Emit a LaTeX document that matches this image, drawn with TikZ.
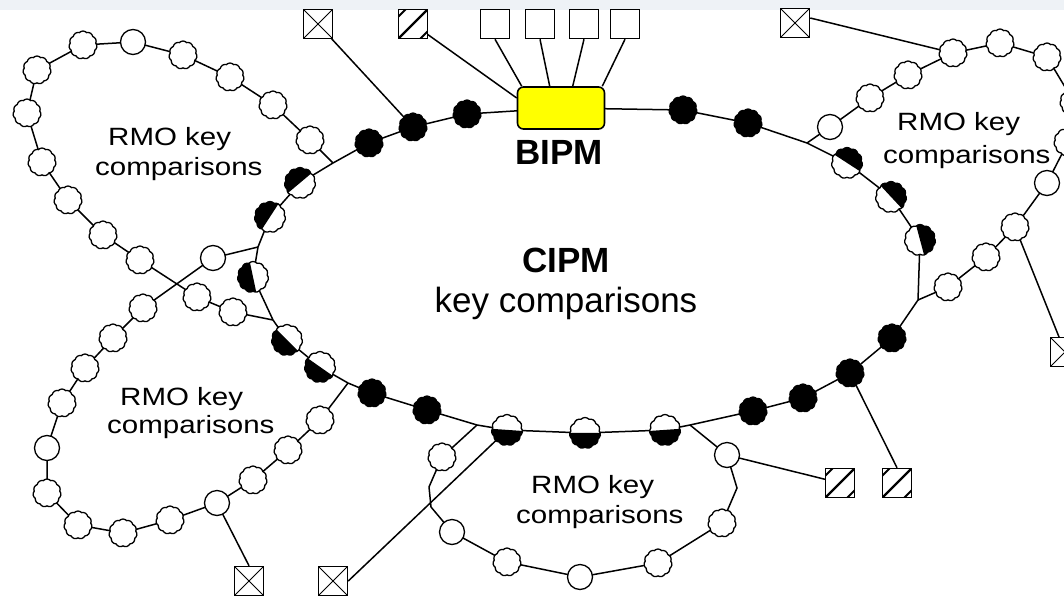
\documentclass[tikz,border=0pt]{standalone}
\usepackage{fontspec}
\setmainfont{Liberation Sans}
\newfontfamily\rmofont[FakeStretch=1.18]{Liberation Sans}
\usetikzlibrary{shapes.symbols,backgrounds}
\definecolor{bandgray}{RGB}{238,242,246}
\definecolor{bipmyellow}{RGB}{255,255,0}
\begin{document}
\begin{tikzpicture}[x=1pt,y=-1pt,
 conn/.style={draw=black, line width=1.5pt},
 wnode/.style={cloud, cloud puffs=11, cloud puff arc=95, aspect=1, draw=black, line width=1.3pt, fill=white, minimum width=28pt, minimum height=28pt, inner sep=0pt},
 pnode/.style={circle, draw=black, line width=1.3pt, fill=white, minimum size=25pt, inner sep=0pt},
 bnode/.style={wnode, fill=black},
 hnode/.style={wnode, minimum width=31pt, minimum height=31pt, path picture={\fill[black] ([shift={({#1+90}:20pt)}]path picture bounding box.center) -- ([shift={({#1+45}:28.3pt)}]path picture bounding box.center) -- ([shift={({#1-45}:28.3pt)}]path picture bounding box.center) -- ([shift={({#1-90}:20pt)}]path picture bounding box.center) -- cycle;}},
 sqbase/.style={draw=black, line width=1.5pt, fill=white, minimum size=29pt, inner sep=0pt},
 sqx/.style={sqbase, path picture={\draw[line width=1pt] (path picture bounding box.north west) -- (path picture bounding box.south east) (path picture bounding box.north east) -- (path picture bounding box.south west);}},
 sqh/.style={sqbase, path picture={\begin{scope}[shift={(path picture bounding box.center)}]\draw[line width=2.4pt] (-15pt,-15pt) -- (15pt,15pt); \draw[line width=2pt] (-15pt,7pt) -- (-7pt,15pt) (7pt,-15pt) -- (15pt,-7pt);\end{scope}}},
 rmo/.style={font=\rmofont\fontsize{25pt}{30pt}\selectfont, anchor=base west, inner sep=0pt},
 big/.style={font=\fontsize{35pt}{40pt}\selectfont, anchor=base, inner sep=0pt},
 bigb/.style={font=\bfseries\fontsize{35pt}{40pt}\selectfont, anchor=base, inner sep=0pt}
]
\useasboundingbox (0,0) rectangle (1064,597);
\clip (0,0) rectangle (1064,597);
\fill[bandgray] (0,0) rectangle (1064,10);

% squares
\node[sqx] (sqA) at (318,24) {};
\node[sqh] (sqB) at (413,24) {};
\node[sqbase] (sq1) at (495,24) {};
\node[sqbase] (sq2) at (540,24) {};
\node[sqbase] (sq3) at (584,24) {};
\node[sqbase] (sq4) at (625,24) {};
\node[sqx] (sqC) at (795,23) {};
\node[sqx] (sqD) at (1065,352) {};
\node[sqh] (sqE) at (840,483) {};
\node[sqh] (sqF) at (897,483) {};
\node[sqx] (sqG) at (249,581) {};
\node[sqx] (sqH) at (333,581) {};

% BIPM
\node[draw=black, line width=1.6pt, fill=bipmyellow, rounded corners=6pt, minimum width=87pt, minimum height=42pt, inner sep=0pt] (bipm) at (561,108) {};
\node[bigb] (bipmtxt) at (559,164) {BIPM};

% CIPM loop
\node[bnode] (c1) at (467,114) {};
\node[bnode] (c2) at (413,127) {};
\node[bnode] (c3) at (369,143) {};
\coordinate (c4) at (333,163);
\node[hnode=130] (c5) at (300,183) {};
\node[hnode=147] (c6) at (270,217) {};
\coordinate (c7) at (258,247);
\node[hnode=192] (c8) at (253,277) {};
\coordinate (c9) at (273,320);
\node[hnode=225] (c10) at (287,340) {};
\node[hnode=235] (c11) at (320,367) {};
\coordinate (c12) at (348,383);
\node[bnode] (c13) at (372,393) {};
\node[bnode] (c14) at (427,410) {};
\coordinate (c15) at (477,425);
\node[hnode=266] (c16) at (507,430) {};
\node[hnode=270] (c17) at (585,433) {};
\node[hnode=274] (c18) at (665,430) {};
\coordinate (c19) at (690,425);
\node[bnode] (c20) at (753,411) {};
\node[bnode] (c21) at (803,398) {};
\node[bnode] (c22) at (850,373) {};
\node[bnode] (c23) at (892,338) {};
\coordinate (c24) at (918,300);
\node[hnode=15] (c25) at (920,240) {};
\node[hnode=43] (c26) at (891,197) {};
\node[hnode=57] (c27) at (847,163) {};
\coordinate (c28) at (807,143);
\node[bnode] (c29) at (748,123) {};
\node[bnode] (c30) at (683,110) {};

% top-left RMO loop
\node[wnode] (t1) at (310,140) {};
\node[wnode] (t2) at (273,105) {};
\node[wnode] (t3) at (230,77) {};
\node[wnode] (t4) at (183,55) {};
\node[pnode] (t5) at (133,42) {};
\node[wnode] (t6) at (83,45) {};
\node[wnode] (t7) at (37,70) {};
\node[wnode] (t8) at (27,113) {};
\node[wnode] (t9) at (42,162) {};
\node[wnode] (t10) at (68,200) {};
\node[wnode] (t11) at (103,235) {};
\node[wnode] (t12) at (140,260) {};
\node[wnode] (t13) at (197,297) {};
\node[wnode] (t14) at (233,312) {};

% right RMO loop
\node[pnode] (r1) at (830,127) {};
\node[wnode] (r2) at (870,98) {};
\node[wnode] (r3) at (908,75) {};
\node[wnode] (r4) at (953,53) {};
\node[wnode] (r5) at (1000,43) {};
\node[wnode] (r6) at (1047,57) {};
\node[wnode] (r7) at (1074,102) {};
\node[wnode] (r8) at (1068,142) {};
\node[pnode] (r9) at (1047,183) {};
\node[wnode] (r10) at (1015,227) {};
\node[wnode] (r11) at (986,257) {};
\node[wnode] (r12) at (948,287) {};

% bottom-left RMO loop
\node[pnode] (l1) at (213,258) {};
\node[wnode] (l2) at (143,308) {};
\node[wnode] (l3) at (113,338) {};
\node[wnode] (l4) at (85,368) {};
\node[wnode] (l5) at (62,403) {};
\node[pnode] (l6) at (47,448) {};
\node[wnode] (l7) at (47,493) {};
\node[wnode] (l8) at (78,525) {};
\node[wnode] (l9) at (123,533) {};
\node[wnode] (l10) at (170,520) {};
\node[pnode] (l11) at (217,503) {};
\node[wnode] (l12) at (253,480) {};
\node[wnode] (l13) at (288,450) {};
\node[wnode] (l14) at (320,420) {};

% bottom RMO loop
\node[wnode] (m1) at (442,457) {};
\coordinate (mb1) at (429,487);
\coordinate (mb2) at (431,507);
\node[pnode] (m2) at (452,532) {};
\node[wnode] (m3) at (507,562) {};
\node[pnode] (m4) at (580,577) {};
\node[wnode] (m5) at (658,563) {};
\node[wnode] (m6) at (722,523) {};
\coordinate (mb3) at (737,488);
\node[pnode] (m7) at (727,455) {};

% texts
\node[bigb] (cipm) at (566,272) {CIPM};
\node[big] (kc) at (566,312) {key comparisons};
\node[rmo] (tl1) at (108,145) {RMO key};
\node[rmo] (tl2) at (95,175) {comparisons};
\node[rmo] (rr1) at (897,130) {RMO key};
\node[rmo] (rr2) at (883,163) {comparisons};
\node[rmo] (bl1) at (120,405) {RMO key};
\node[rmo] (bl2) at (107,433) {comparisons};
\node[rmo] (bb1) at (531,493) {RMO key};
\node[rmo] (bb2) at (516,523) {comparisons};

\begin{pgfonlayer}{background}
\draw[conn] (bipm.center) -- (c1.center) -- (c2.center) -- (c3.center) -- (c4) -- (c5.center) -- (c6.center) -- (c7) -- (c8.center) -- (c9) -- (c10.center) -- (c11.center) -- (c12) -- (c13.center) -- (c14.center) -- (c15) -- (c16.center) -- (c17.center) -- (c18.center) -- (c19) -- (c20.center) -- (c21.center) -- (c22.center) -- (c23.center) -- (c24) -- (c25.center) -- (c26.center) -- (c27.center) -- (c28) -- (c29.center) -- (c30.center) -- (bipm.center);
\draw[conn] (c4) -- (t1.center) -- (t2.center) -- (t3.center) -- (t4.center) -- (t5.center) -- (t6.center) -- (t7.center) -- (t8.center) -- (t9.center) -- (t10.center) -- (t11.center) -- (t12.center) -- (t13.center) -- (t14.center) -- (c9);
\draw[conn] (c28) -- (r1.center) -- (r2.center) -- (r3.center) -- (r4.center) -- (r5.center) -- (r6.center) -- (r7.center) -- (r8.center) -- (r9.center) -- (r10.center) -- (r11.center) -- (r12.center) -- (c24);
\draw[conn] (c7) -- (l1.center) -- (l2.center) -- (l3.center) -- (l4.center) -- (l5.center) -- (l6.center) -- (l7.center) -- (l8.center) -- (l9.center) -- (l10.center) -- (l11.center) -- (l12.center) -- (l13.center) -- (l14.center) -- (c12);
\draw[conn] (c15) -- (m1.center) -- (mb1) -- (mb2) -- (m2.center) -- (m3.center) -- (m4.center) -- (m5.center) -- (m6.center) -- (mb3) -- (m7.center) -- (c19);
% square connectors
\draw[conn] (sqA.center) -- (c2.center);
\draw[conn] (sqB.center) -- ([yshift=10pt]bipm.west);
\draw[conn] (sq1.south) -- ([xshift=5pt]bipm.north west);
\draw[conn] (sq2.south) -- ([xshift=33pt]bipm.north west);
\draw[conn] (sq3.south) -- ([xshift=56pt]bipm.north west);
\draw[conn] (sq4.south) -- ([xshift=-3pt]bipm.north east);
\draw[conn] ([yshift=5pt]sqC.east) -- (r4.center);
\draw[conn] (sqD.center) -- (r10.center);
\draw[conn] (sqE.center) -- (m7.center);
\draw[conn] (sqF.north) -- (c22.center);
\draw[conn] (sqG.north) -- (l11.center);
\draw[conn] (sqH.east) -- (c16.center);
\end{pgfonlayer}
\end{tikzpicture}
\end{document}
